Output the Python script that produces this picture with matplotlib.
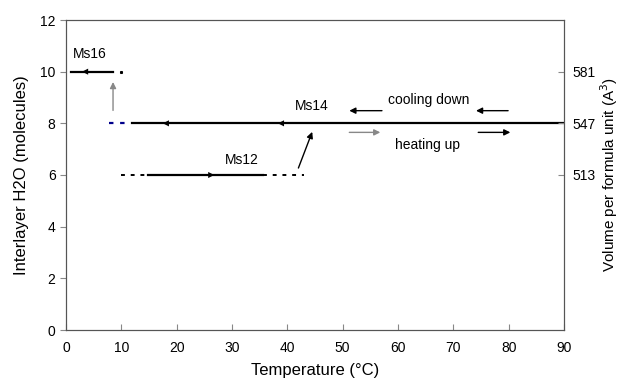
import matplotlib.pyplot as plt

plt.rcParams['font.family'] = ['Liberation Sans', 'DejaVu Sans']

# Ms16 (y = 10)
ms16_solid_t = [0.9, 8.5]
ms16_dot_t = [9.9]
ms16_y = 10

# Ms14 (y = 8)
ms14_dash_t = [7.8, 10.7]
ms14_solid_t = [11.9, 90]
ms14_y = 8

# Ms12 (y = 6)
ms12_dash1_t = [9.9, 14.8]
ms12_solid_t = [14.8, 35.6]
ms12_dash2_t = [35.6, 43.0]
ms12_y = 6

right_ticks = [10, 8, 6]
right_labels = ['581', '547', '513']

GRAY = '#888888'

fig = plt.figure(figsize=(6.21, 3.83), dpi=100)
ax = fig.add_axes([66 / 621, 53 / 383, 498 / 621, 310 / 383])

ax.plot(ms16_solid_t, [ms16_y] * 2, color='black', lw=1.6)
ax.plot(ms16_dot_t, [ms16_y], marker='s', ms=1.2, color='black')
ax.plot(ms14_dash_t, [ms14_y] * 2, color='#00008b', lw=1.6, ls=(0, (2, 3)))
ax.plot(ms14_solid_t, [ms14_y] * 2, color='black', lw=1.6)
ax.plot(ms12_dash1_t, [ms12_y] * 2, color='black', lw=1.4, ls=(0, (2, 3)))
ax.plot(ms12_solid_t, [ms12_y] * 2, color='black', lw=1.6)
ax.plot(ms12_dash2_t, [ms12_y] * 2, color='black', lw=1.4, ls=(0, (2, 3)))


# arrowheads on the lines
def head(x, y, dx):
    ax.annotate('', xy=(x, y), xytext=(x - dx, y),
                arrowprops=dict(arrowstyle='-|>', color='black', lw=0,
                                mutation_scale=11, shrinkA=0, shrinkB=0))


head(2.9, ms16_y, -0.5)
head(17.5, ms14_y, -0.5)
head(38.3, ms14_y, -0.5)
head(26.8, ms12_y, 0.5)


def arrow(x0, y0, x1, y1, color='black'):
    ax.annotate('', xy=(x1, y1), xytext=(x0, y0),
                arrowprops=dict(arrowstyle='-|>', color=color, lw=1.0,
                                mutation_scale=9, shrinkA=0, shrinkB=0))


arrow(8.5, 8.5, 8.5, 9.6, GRAY)
arrow(42.0, 6.27, 44.5, 7.67)
arrow(57.1, 8.49, 51.2, 8.49)
arrow(79.9, 8.49, 74.1, 8.49)
arrow(51.2, 7.65, 56.8, 7.65, GRAY)
arrow(74.5, 7.65, 80.3, 7.65)

ax.text(4.3, 10.7, 'Ms16', fontsize=10, ha='center', va='center')
ax.text(44.5, 8.67, 'Ms14', fontsize=10, ha='center', va='center')
ax.text(31.8, 6.58, 'Ms12', fontsize=10, ha='center', va='center')
ax.text(65.5, 8.9, 'cooling down', fontsize=10, ha='center', va='center')
ax.text(65.3, 7.16, 'heating up', fontsize=10, ha='center', va='center')

ax.set_xlim(0, 90)
ax.set_ylim(0, 12)
ax.set_xticks(range(0, 91, 10))
ax.set_yticks(range(0, 13, 2))
ax.tick_params(axis='x', direction='in', length=4, pad=8, labelsize=10, color=GRAY)
ax.tick_params(axis='y', direction='out', length=4, labelsize=10, color=GRAY)
ax.set_xlabel('Temperature (°C)', fontsize=12, labelpad=6)
ax.set_ylabel('Interlayer H2O (molecules)', fontsize=12, labelpad=8)
for s in ax.spines.values():
    s.set_color('#555555')

ax2 = ax.twinx()
ax2.set_ylim(0, 12)
ax2.set_yticks(right_ticks)
ax2.set_yticklabels(right_labels)
ax2.tick_params(axis='y', direction='in', length=4, labelsize=10, pad=6, color=GRAY)
ax2.set_ylabel('Volume per formula unit (A$^3$)', fontsize=11, labelpad=2)
for s in ax2.spines.values():
    s.set_color('#555555')

fig.savefig('out.png', dpi=100)
